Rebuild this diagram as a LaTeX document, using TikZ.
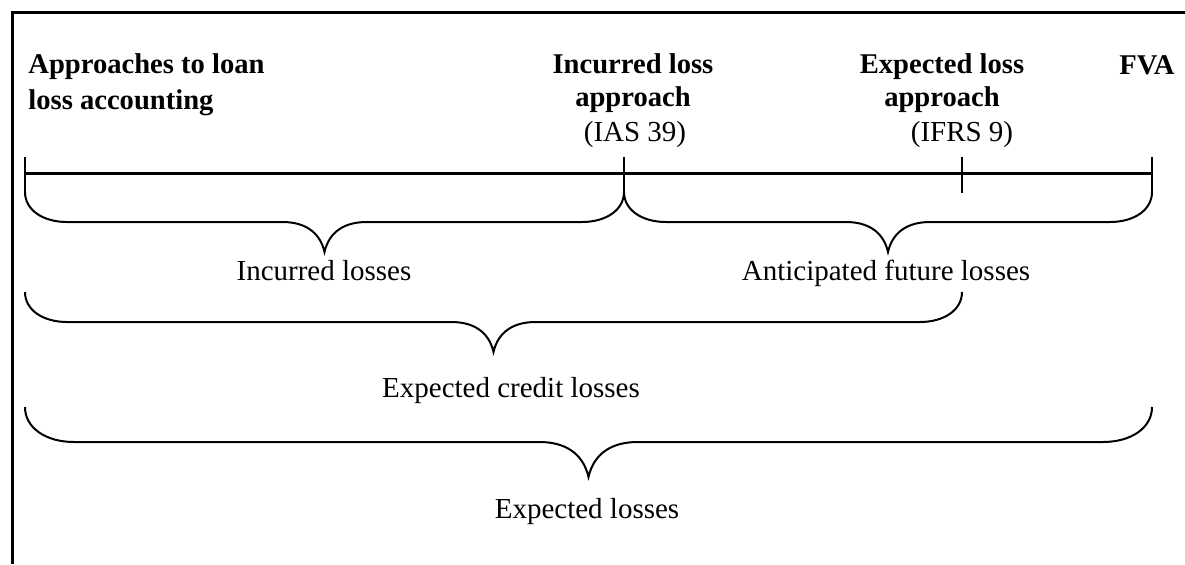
\documentclass[tikz,border=0pt]{standalone}
\usepackage{fontspec}
\setmainfont{Liberation Serif}
\usepackage{tikz}
\usetikzlibrary{positioning,decorations.pathreplacing}
% brace with shorter end and tip curves
\pgfdeclaredecoration{tightbrace}{brace}
{%
  \state{brace}[width=+\pgfdecoratedremainingdistance,next state=final]
  {%
    \pgfpathmoveto{\pgfpointorigin}%
    \pgfpathcurveto
    {\pgfqpoint{0pt}{.3\pgfdecorationsegmentamplitude}}%
    {\pgfqpoint{.3\pgfdecorationsegmentamplitude}{.5\pgfdecorationsegmentamplitude}}%
    {\pgfqpoint{.7\pgfdecorationsegmentamplitude}{.5\pgfdecorationsegmentamplitude}}%
    {%
      \pgftransformxshift{+.5\pgfdecoratedremainingdistance}%
      \pgfpathlineto{\pgfqpoint{-.7\pgfdecorationsegmentamplitude}{.5\pgfdecorationsegmentamplitude}}%
      \pgfpathcurveto
      {\pgfqpoint{-.35\pgfdecorationsegmentamplitude}{.5\pgfdecorationsegmentamplitude}}%
      {\pgfqpoint{-.08\pgfdecorationsegmentamplitude}{.65\pgfdecorationsegmentamplitude}}%
      {\pgfqpoint{0pt}{\pgfdecorationsegmentamplitude}}%
      \pgfpathcurveto
      {\pgfqpoint{.08\pgfdecorationsegmentamplitude}{.65\pgfdecorationsegmentamplitude}}%
      {\pgfqpoint{.35\pgfdecorationsegmentamplitude}{.5\pgfdecorationsegmentamplitude}}%
      {\pgfqpoint{.7\pgfdecorationsegmentamplitude}{.5\pgfdecorationsegmentamplitude}}%
    }%
    {%
      \pgftransformxshift{+\pgfdecoratedremainingdistance}%
      \pgfpathlineto{\pgfqpoint{-.7\pgfdecorationsegmentamplitude}{.5\pgfdecorationsegmentamplitude}}%
      \pgfpathcurveto
      {\pgfqpoint{-.3\pgfdecorationsegmentamplitude}{.5\pgfdecorationsegmentamplitude}}%
      {\pgfqpoint{0pt}{.3\pgfdecorationsegmentamplitude}}%
      {\pgfpointorigin}%
    }%
  }%
  \state{final}{}%
}
\tikzstyle{frame} = [line width=1.5pt]
\tikzstyle{axis} = [line width=1.5pt]
\tikzstyle{tick} = [line width=1.3pt]
\tikzstyle{curly} = [decorate, decoration={tightbrace, mirror, amplitude=30pt}, line width=1pt]
\tikzstyle{head} = [font=\fontsize{14.3}{16.5}\selectfont\bfseries, align=center, inner sep=0pt]
\tikzstyle{losstext} = [font=\fontsize{14.5}{17}\selectfont, inner sep=0pt]

\begin{document}
\begin{tikzpicture}[x=0.5pt, y=-0.5pt]
\useasboundingbox (0,0) rectangle (1185,564);

% frame
\draw [frame] (12,564) -- (12,12) -- (1185,12);

% headings
\node (approaches) [head, align=left, anchor=north west, font=\fontsize{14.3}{18}\selectfont\bfseries] at (28,53) {Approaches to loan\\loss accounting};
\node (incurred) [head, anchor=north] at (633,53) {Incurred loss\\approach};
\node (ias) [losstext, anchor=base] at (635,141) {(IAS 39)};
\node (expected) [head, anchor=north] at (942,53) {Expected loss\\approach};
\node (ifrs) [losstext, anchor=base] at (962,141) {(IFRS 9)};
\node (fva) [head, anchor=base] at (1147,74) {FVA};

% time line
\coordinate (t0) at (25,173);
\coordinate (t1) at (624,173);
\coordinate (t2) at (962,173);
\coordinate (t3) at (1152,173);
\draw [axis] (t0) -- (t3);
\foreach \t in {t0,t1,t2,t3}
  \draw [tick] (\t) ++(0,-16) -- ++(0,36);

% braces
\coordinate (u0) at (25,192);
\coordinate (u1) at (624,192);
\coordinate (u3) at (1152,192);
\coordinate (m0) at (25,292);
\coordinate (m2) at (962,292);
\coordinate (l0) at (25,407);
\coordinate (l3) at (1152,407);

\draw [curly] (u0) -- (u1);
\draw [curly] (u1) -- (u3);
\draw [curly] (m0) -- (m2);
\draw [curly, decoration={amplitude=35pt}] (l0) -- (l3);

\node (incloss) [losstext, anchor=base] at (324,280) {Incurred losses};
\node (antloss) [losstext, anchor=base] at (886,280) {Anticipated future losses};
\node (ecl) [losstext, anchor=base] at (511,397) {Expected credit losses};
\node (el) [losstext, anchor=base] at (587,518) {Expected losses};

\end{tikzpicture}
\end{document}
